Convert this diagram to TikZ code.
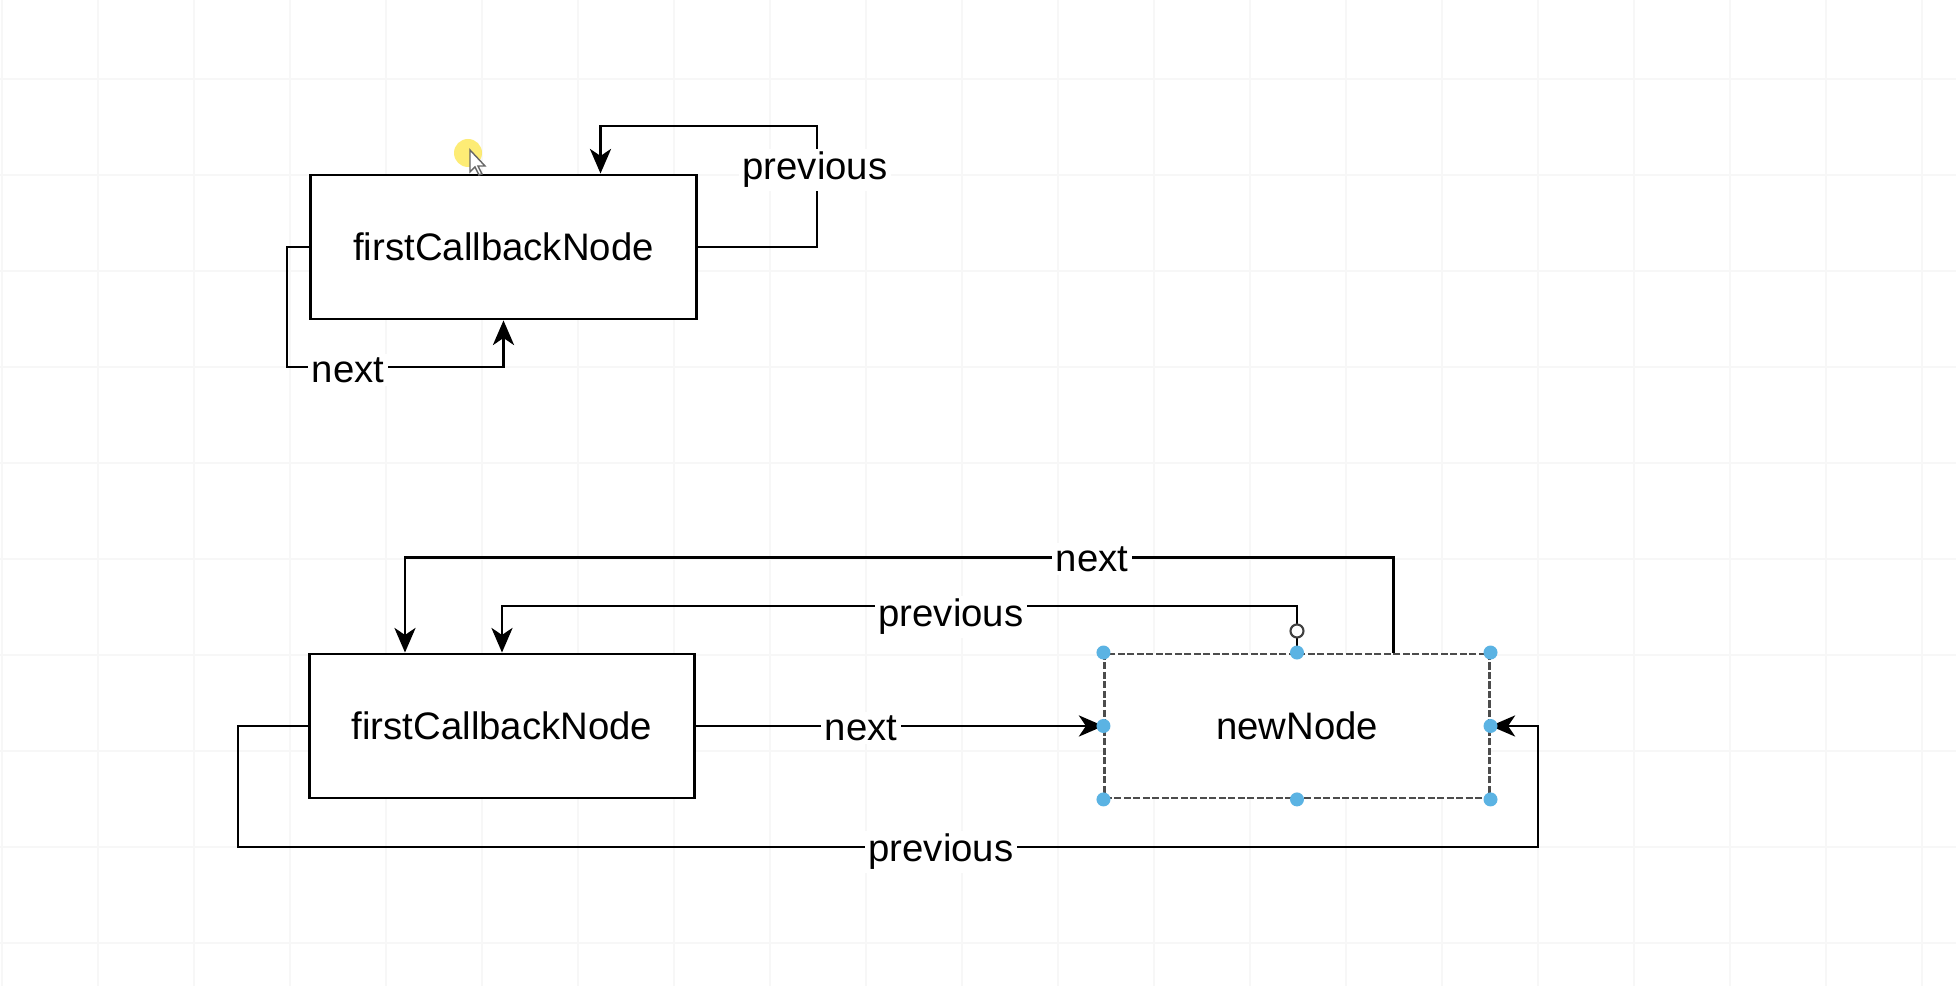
\documentclass[tikz,border=0pt]{standalone}
\usepackage{fontspec}
\setmainfont{Liberation Sans}
\usepackage{xcolor}
\usepackage{tikz}
\usetikzlibrary{shapes, arrows.meta, positioning}
\usetikzlibrary{calc}
\definecolor{gridgray}{RGB}{247,247,247}
\definecolor{handleblue}{RGB}{91,179,227}

\begin{document}
\begin{tikzpicture}
  [
    x=0.01cm, y=-0.01cm,
    font=\fontsize{10.9}{13}\selectfont,
    Box/.style={rectangle, draw=black, fill=white, line width=0.8pt, minimum width=3.85cm, minimum height=1.44cm, inner sep=0pt},
    Picked/.style={rectangle, draw=black!70, dash pattern=on 2pt off 0.7pt, fill=white, line width=0.8pt, minimum width=3.84cm, minimum height=1.44cm, inner sep=0pt},
    Lbl/.style={fill=white, inner sep=1pt},
    Handle/.style={circle, fill=handleblue, inner sep=0pt, minimum size=1.4mm},
    Link/.style={draw, line width=0.8pt, -{Stealth[length=7pt, width=6pt, inset=2pt]}}
  ]
  \useasboundingbox (0,0) rectangle (1956,986);
  \fill[white] (0,0) rectangle (1956,986);
  % Grid
  \foreach \gx in {2,98,...,1922}
    \draw[gridgray, line width=0.5pt] (\gx,0) -- (\gx,986);
  \foreach \gy in {79,175,...,943}
    \draw[gridgray, line width=0.5pt] (0,\gy) -- (1956,\gy);

  % Nodes
  \node[Box] (first) at (503.5,247) {firstCallbackNode};
  \node[Box] (firstB) at (502,726) {firstCallbackNode};
  \node[Picked] (newN) at (1297,726) {newNode};

  % Lines
  \path[Link] (first.east) -| (817,126) -| ($(first.north west)!.75!(first.north east)$);
  \path[Link] (first.west) -| (287,367) -| (first.south);
  \path[Link] ($(newN.north west)!.75!(newN.north east)$) -- ++(0,-95) -| ($(firstB.north west)!.25!(firstB.north east)$);
  \path[Link] (newN.north) -- ++(0,-46.5) -| (firstB.north);
  \path[Link] (firstB.east) -- (newN.west);
  \path[Link] (firstB.west) -| (238,847) -| (1538,726) -- (newN.east);

  % Labels
  \node[Lbl] (prevTop) at (815,170) {previous};
  \node[Lbl] (nextTop) at (348,370) {next};
  \node[Lbl] (nextOut) at (1092,559) {next};
  \node[Lbl] (prevIn) at (951,617) {previous};
  \node[Lbl] (nextMid) at (861,728) {next};
  \node[Lbl] (prevOut) at (941,852) {previous};

  % Selection handles
  \foreach \anc in {north west, north, north east, west, east, south west, south, south east}
    \node[Handle] at (newN.\anc) {};
  \node[circle, draw=black!75, fill=white, line width=0.6pt, inner sep=0pt, minimum size=1.3mm] (spin) at (1297,631) {};

  % Pointer
  \fill[yellow!80!orange, opacity=0.55] (468,153) circle (14);
  \draw[black!60, fill=white, line width=0.4pt] (470,150) -- (470,172) -- (475,167) -- (479,175) -- (482,174) -- (478,166) -- (485,166) -- cycle;
\end{tikzpicture}
\end{document}
